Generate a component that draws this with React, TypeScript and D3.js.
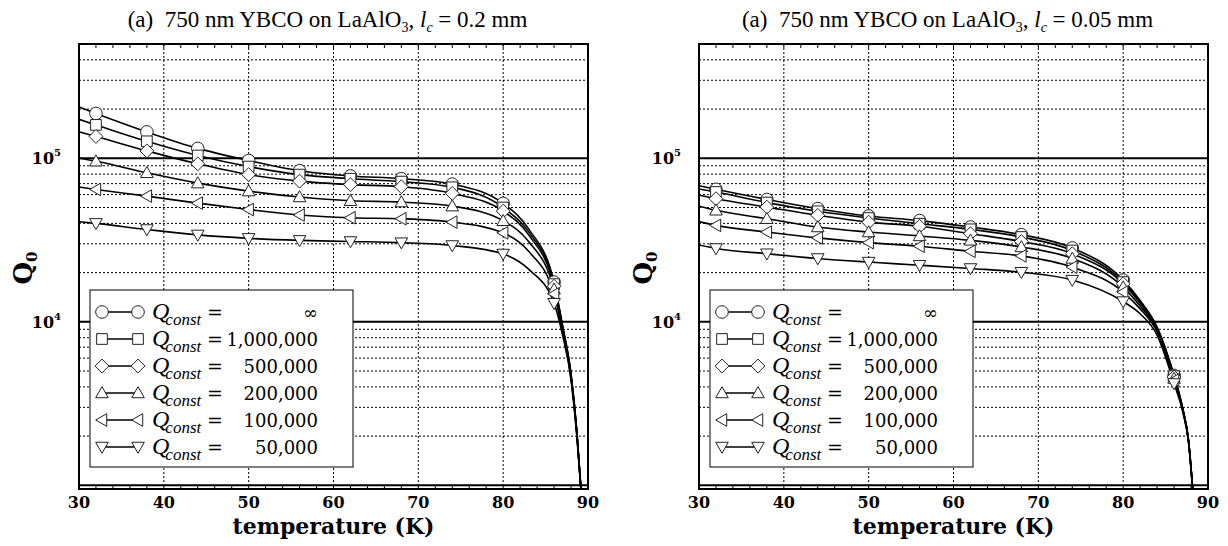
import React from 'react';
import * as d3 from 'd3';

// shared categories / labels
const tempTicks = [30, 40, 50, 60, 70, 80, 90];
const markerTemps = [32, 38, 44, 50, 56, 62, 68, 74, 80, 86];
const qConstLabels = ['\u221e', '1,000,000', '500,000', '200,000', '100,000', '50,000'];
const markerKinds = ['circle', 'square', 'diamond', 'up', 'left', 'down'];
const yLabelDecades = [4, 5];

// panel 1: lc = 0.2 mm
const tempsWide = [30, 32, 38, 44, 50, 56, 62, 68, 74, 80, 83, 86, 87, 88, 88.7, 89.2];
const wideInf = [206000, 188000, 145000, 115000, 97000, 84000, 78000, 75000, 69500, 53000, 37000, 17500, 9500, 4800, 2100, 900];
const wide1M = [173000, 160000, 127000, 104000, 89000, 79500, 75000, 72000, 66500, 50000, 35500, 17000, 9400, 4750, 2080, 900];
const wide500k = [145000, 136000, 111000, 92500, 79500, 72500, 69000, 67000, 61000, 47500, 34000, 16500, 9300, 4700, 2060, 900];
const wide200k = [100000, 96000, 81500, 70500, 63000, 58000, 55000, 54000, 51000, 41500, 31000, 15800, 9000, 4600, 2030, 900];
const wide100k = [66700, 64500, 58700, 53200, 48600, 45000, 43300, 42700, 40700, 35000, 27000, 14800, 8800, 4550, 2000, 900];
const wide50k = [41000, 40000, 36700, 34000, 32400, 31500, 31000, 30500, 29300, 26000, 21000, 13000, 8300, 4400, 1950, 900];

// panel 2: lc = 0.05 mm
const tempsNarrow = [30, 32, 38, 44, 50, 56, 62, 68, 74, 80, 82, 84, 86, 87, 87.7, 88.3];
const narrowInf = [68000, 64600, 56000, 49200, 44400, 41600, 38000, 34100, 28300, 18000, 13500, 9300, 4700, 3000, 1900, 800];
const narrow1M = [65000, 62200, 53600, 47400, 43100, 39800, 36800, 33000, 27300, 17500, 13200, 9200, 4650, 2980, 1890, 800];
const narrow500k = [59500, 56600, 50300, 44800, 40700, 38400, 34600, 31000, 26100, 17100, 13000, 9100, 4600, 2960, 1880, 800];
const narrow200k = [51000, 48100, 42700, 38000, 35400, 33500, 31500, 28700, 24400, 16300, 12500, 8900, 4500, 2930, 1870, 800];
const narrow100k = [41000, 38900, 35400, 32600, 30500, 29000, 27000, 25300, 21600, 15200, 12000, 8700, 4400, 2900, 1860, 800];
const narrow50k = [29500, 28100, 26100, 24400, 23200, 22200, 21200, 20100, 18000, 13300, 11200, 8300, 4200, 2850, 1850, 800];

const TOP = 44;
const BOTTOM = 489;
const NUM_FONT = '"DejaVu Serif", serif';
const TITLE_FONT = '"Liberation Serif", "Times New Roman", serif';

function markerPath(kind: string, s: number) {
  switch (kind) {
    case 'circle':
      return d3.symbol(d3.symbolCircle, Math.PI * s * s)() as string;
    case 'square': {
      const h = s * 0.85;
      return `M${-h},${-h}H${h}V${h}H${-h}Z`;
    }
    case 'diamond': {
      const h = s * 1.1;
      return `M0,${-h}L${h},0L0,${h}L${-h},0Z`;
    }
    case 'up':
      return `M0,${-s}L${s},${s * 0.75}L${-s},${s * 0.75}Z`;
    case 'down':
      return `M0,${s}L${s},${-s * 0.75}L${-s},${-s * 0.75}Z`;
    default:
      return `M${-s},0L${s * 0.75},${-s}L${s * 0.75},${s}Z`;
  }
}

function Panel(props: { id: string; left: number; right: number; lc: string; temps: number[]; series: number[][] }) {
  const { id, left, right, lc, temps, series } = props;
  const x = d3.scaleLinear().domain([30, 90]).range([left, right]);
  const y = d3.scaleLog().domain([950, 5e5]).range([BOTTOM, TOP]);
  const cx = (left + right) / 2;

  const hLines = y.ticks().filter((v) => v > 950 && v < 5e5);
  const isMajor = (v: number) => Math.abs(Math.log10(v) - Math.round(Math.log10(v))) < 1e-6;

  const line = d3
    .line<[number, number]>()
    .x((d) => x(d[0]))
    .y((d) => y(d[1]))
    .curve(d3.curveMonotoneX);

  const minorT = d3.range(30, 91, 2);
  const lx = left + 11;
  const ly = TOP + 246;

  return (
    <g>
      <defs>
        <clipPath id={'clip-' + id}>
          <rect x={left} y={TOP} width={right - left} height={BOTTOM - TOP} />
        </clipPath>
      </defs>

      {/* title */}
      <text x={cx - 6} y={27} textAnchor="middle" fontFamily={TITLE_FONT} fontSize={23} fill="#000">
        <tspan>(a)</tspan>
        <tspan>{'\u00a0\u00a0750 nm YBCO on LaAlO'}</tspan>
        <tspan fontSize={14} dy={5}>3</tspan>
        <tspan dy={-5}>{', '}</tspan>
        <tspan fontStyle="italic">l</tspan>
        <tspan fontStyle="italic" fontSize={14} dy={5}>c</tspan>
        <tspan dy={-5}>{' = ' + lc}</tspan>
      </text>

      {/* grid */}
      {tempTicks.slice(1, -1).map((t) => (
        <line key={'v' + t} x1={x(t)} x2={x(t)} y1={TOP} y2={BOTTOM} stroke="#000" strokeWidth={1} strokeDasharray="2,2" />
      ))}
      {hLines.map((v) => (
        <line
          key={'h' + v}
          x1={left}
          x2={right}
          y1={y(v)}
          y2={y(v)}
          stroke="#000"
          strokeWidth={isMajor(v) ? 2 : 1}
          strokeDasharray={isMajor(v) ? undefined : '2,2'}
        />
      ))}

      {/* curves */}
      <g clipPath={`url(#clip-${id})`}>
        {series.map((vals, i) => (
          <path
            key={'c' + i}
            d={line(temps.map((t, j) => [t, vals[j]] as [number, number])) as string}
            fill="none"
            stroke="#000"
            strokeWidth={1.6}
          />
        ))}
      </g>

      {/* markers */}
      {series.map((vals, i) =>
        markerTemps.map((t) => {
          const j = temps.indexOf(t);
          return (
            <path
              key={'m' + i + '-' + t}
              d={markerPath(markerKinds[i], 6.3)}
              transform={`translate(${x(t)},${y(vals[j])})`}
              fill="#fff"
              stroke="#222"
              strokeWidth={1}
            />
          );
        })
      )}

      {/* ticks */}
      {minorT.map((t) => (
        <g key={'t' + t}>
          <line x1={x(t)} x2={x(t)} y1={TOP} y2={TOP + 4} stroke="#000" strokeWidth={1} />
          <line x1={x(t)} x2={x(t)} y1={BOTTOM} y2={BOTTOM - 4} stroke="#000" strokeWidth={1} />
        </g>
      ))}

      {/* frame */}
      <rect x={left} y={TOP} width={right - left} height={BOTTOM - TOP} fill="none" stroke="#000" strokeWidth={2} />

      {/* legend */}
      <rect x={lx} y={ly} width={263} height={177} fill="#fff" stroke="#000" strokeWidth={1} />
      {qConstLabels.map((lab, i) => {
        const ry = ly + 22 + i * 27;
        return (
          <g key={'l' + i}>
            <line x1={lx + 12} x2={lx + 48} y1={ry} y2={ry} stroke="#000" strokeWidth={1.6} />
            <path d={markerPath(markerKinds[i], 6.3)} transform={`translate(${lx + 12},${ry})`} fill="#fff" stroke="#222" strokeWidth={1} />
            <path d={markerPath(markerKinds[i], 6.3)} transform={`translate(${lx + 48},${ry})`} fill="#fff" stroke="#222" strokeWidth={1} />
            <text x={lx + 62} y={ry + 7} fontFamily={TITLE_FONT} fontStyle="italic" fontSize={24} fill="#000">
              Q
              <tspan fontSize={17} dx={-4} dy={6}>const</tspan>
            </text>
            <text x={lx + 117} y={ry + 7} fontFamily={NUM_FONT} fontSize={19} fill="#000">=</text>
            <text x={lx + 228} y={ry + 7} textAnchor="end" fontFamily={NUM_FONT} fontSize={18} fill="#000">
              {lab}
            </text>
          </g>
        );
      })}

      {/* x tick labels */}
      {tempTicks.map((t) => (
        <text key={'xl' + t} x={x(t)} y={508} textAnchor="middle" fontFamily={NUM_FONT} fontWeight="bold" fontSize={16} fill="#000">
          {t}
        </text>
      ))}
      <text x={cx} y={534} textAnchor="middle" fontFamily={NUM_FONT} fontWeight="bold" fontSize={22} fill="#000">
        temperature (K)
      </text>

      {/* y tick labels */}
      {yLabelDecades.map((d) => (
        <text key={'yl' + d} x={left - 18} y={y(Math.pow(10, d)) + 6} textAnchor="end" fontFamily={NUM_FONT} fontWeight="bold" fontSize={16} fill="#000">
          10
          <tspan fontSize={10} dy={-8}>{d}</tspan>
        </text>
      ))}
      <text
        transform={`translate(${left - 47},${268}) rotate(-90)`}
        textAnchor="middle"
        fontFamily={NUM_FONT}
        fontWeight="bold"
        fontSize={26}
        fill="#000"
      >
        Q<tspan fontSize={15} dy={5}>0</tspan>
      </text>
    </g>
  );
}

export default function App() {
  return (
    <svg width={1228} height={546} style={{ position: 'absolute', left: 0, top: 0, background: '#fff' }}>
      <Panel
        id="a"
        left={79}
        right={588}
        lc="0.2 mm"
        temps={tempsWide}
        series={[wideInf, wide1M, wide500k, wide200k, wide100k, wide50k]}
      />
      <Panel
        id="b"
        left={699}
        right={1208}
        lc="0.05 mm"
        temps={tempsNarrow}
        series={[narrowInf, narrow1M, narrow500k, narrow200k, narrow100k, narrow50k]}
      />
    </svg>
  );
}
